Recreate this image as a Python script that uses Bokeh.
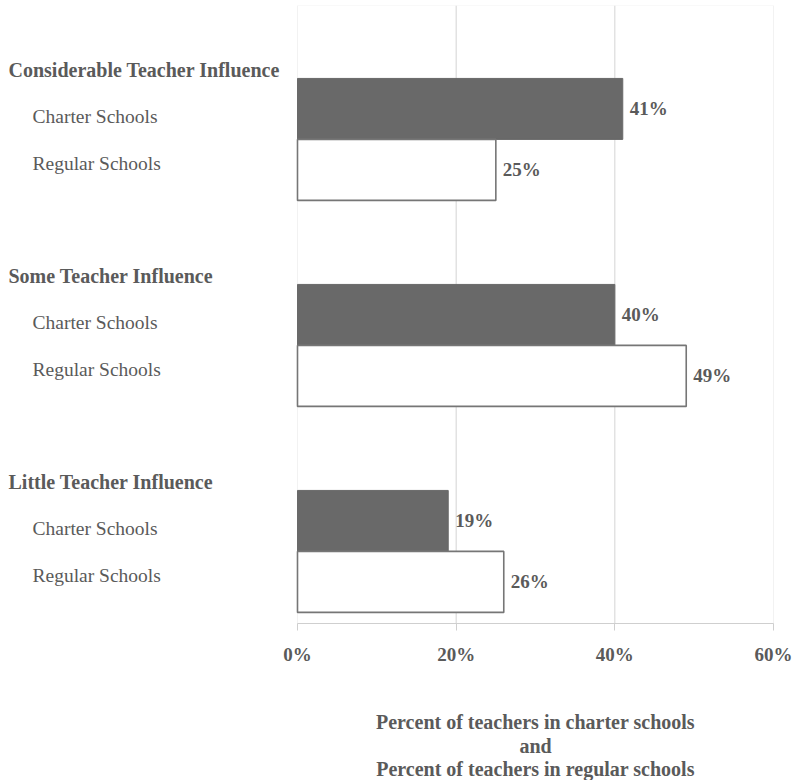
from bokeh.plotting import figure
from bokeh.models import Range1d, FixedTicker, ColumnDataSource, BoxAnnotation
from bokeh.core.properties import value
from bokeh.embed import file_html
from bokeh.resources import INLINE

# Data
groups = ["Considerable Teacher Influence", "Some Teacher Influence", "Little Teacher Influence"]
series = ["Charter Schools", "Regular Schools"]
charter = [41, 40, 19]
regular = [25, 49, 26]
ticks = [0, 20, 40, 60]
tick_labels = ["0%", "20%", "40%", "60%"]
axis_title = ["Percent of teachers in charter schools", "and", "Percent of teachers in regular schools"]

FONT = "Liberation Serif"
TXT = "#5a5a5a"
GRID = "#d4d4d4"

PLOT_PX = 476.0          # pixel width of the 0-60 % plot area
BAND_PX = 206.0          # pixel height of one group band
px = 60 / PLOT_PX        # percent per pixel
label_span = 297.0 * px
right_pad = 21.0 * px
y_bottom = 775.0 / BAND_PX

p = figure(width=794, height=780, output_backend="svg", toolbar_location=None,
           x_range=Range1d(-label_span, 60 + right_pad), y_range=Range1d(y_bottom, 0))
p.min_border_left = 0
p.min_border_right = 0
p.min_border_top = 5
p.min_border_bottom = 0
p.outline_line_color = None
p.grid.visible = False
p.yaxis.visible = False

# vertical gridlines and plot-area box
grid_x = [20, 40]
p.segment(x0=grid_x, x1=grid_x, y0=[0] * 2, y1=[3] * 2, line_color=GRID, line_width=1)
p.add_layout(BoxAnnotation(left=0, right=60, top=0, bottom=3, fill_alpha=0,
                           line_color=GRID, line_width=1, level="underlay"))

bar_h = 0.296
c_center = [i + 0.502 for i in range(3)]
r_center = [i + 0.798 for i in range(3)]

src_c = ColumnDataSource(dict(y=c_center, right=charter, lab=[f"{v}%" for v in charter]))
src_r = ColumnDataSource(dict(y=r_center, right=regular, lab=[f"{v}%" for v in regular]))
p.hbar(y="y", right="right", left=0, height=bar_h, source=src_c,
       fill_color="#696969", line_color="#696969", line_width=1)
p.hbar(y="y", right="right", left=0, height=bar_h, source=src_r,
       fill_color="white", line_color="#767676", line_width=1.6)

for src in (src_c, src_r):
    p.text(x="right", y="y", text="lab", source=src, x_offset=7,
           text_font=value(FONT), text_font_size="19px", text_font_style="bold",
           text_color=TXT, text_baseline="middle", text_align="left")

# category and series labels in the left column
gx, gy, gt = [], [], []
sx, sy, st = [], [], []
for i, g in enumerate(groups):
    gx.append(-label_span + 8 * px); gy.append(i + 0.313); gt.append(g)
    for j, s in enumerate(series):
        sx.append(-label_span + 32 * px); sy.append(i + 0.54 + 0.228 * j); st.append(s)

p.text(x=gx, y=gy, text=gt, text_font=value(FONT), text_font_size="20px",
       text_font_style="bold", text_color=TXT, text_baseline="middle", text_align="left")
p.text(x=sx, y=sy, text=st, text_font=value(FONT), text_font_size="19.5px",
       text_color=TXT, text_baseline="middle", text_align="left")

# value axis pinned to the bottom of the plot area
xa = p.xaxis[0]
xa.fixed_location = 3
xa.bounds = (0, 60)
xa.ticker = FixedTicker(ticks=ticks)
xa.major_label_overrides = {t: l for t, l in zip(ticks, tick_labels)}
xa.major_label_text_font = FONT
xa.major_label_text_font_size = "19px"
xa.major_label_text_font_style = "bold"
xa.major_label_text_color = TXT
xa.major_label_standoff = 13
xa.axis_line_color = "#cfcfcf"
xa.major_tick_line_color = "#cfcfcf"
xa.major_tick_out = 7
xa.major_tick_in = 0
xa.minor_tick_line_color = None

# axis title, three centred lines under the axis
title_y = [(721 - 5) / BAND_PX, (745 - 5) / BAND_PX, (768 - 5) / BAND_PX]
p.text(x=[30] * 3, y=title_y, text=axis_title, text_font=value(FONT),
       text_font_size="20px", text_font_style="bold", text_color=TXT,
       text_align="center", text_baseline="middle")

open("out.html", "w").write(file_html(p, INLINE))
